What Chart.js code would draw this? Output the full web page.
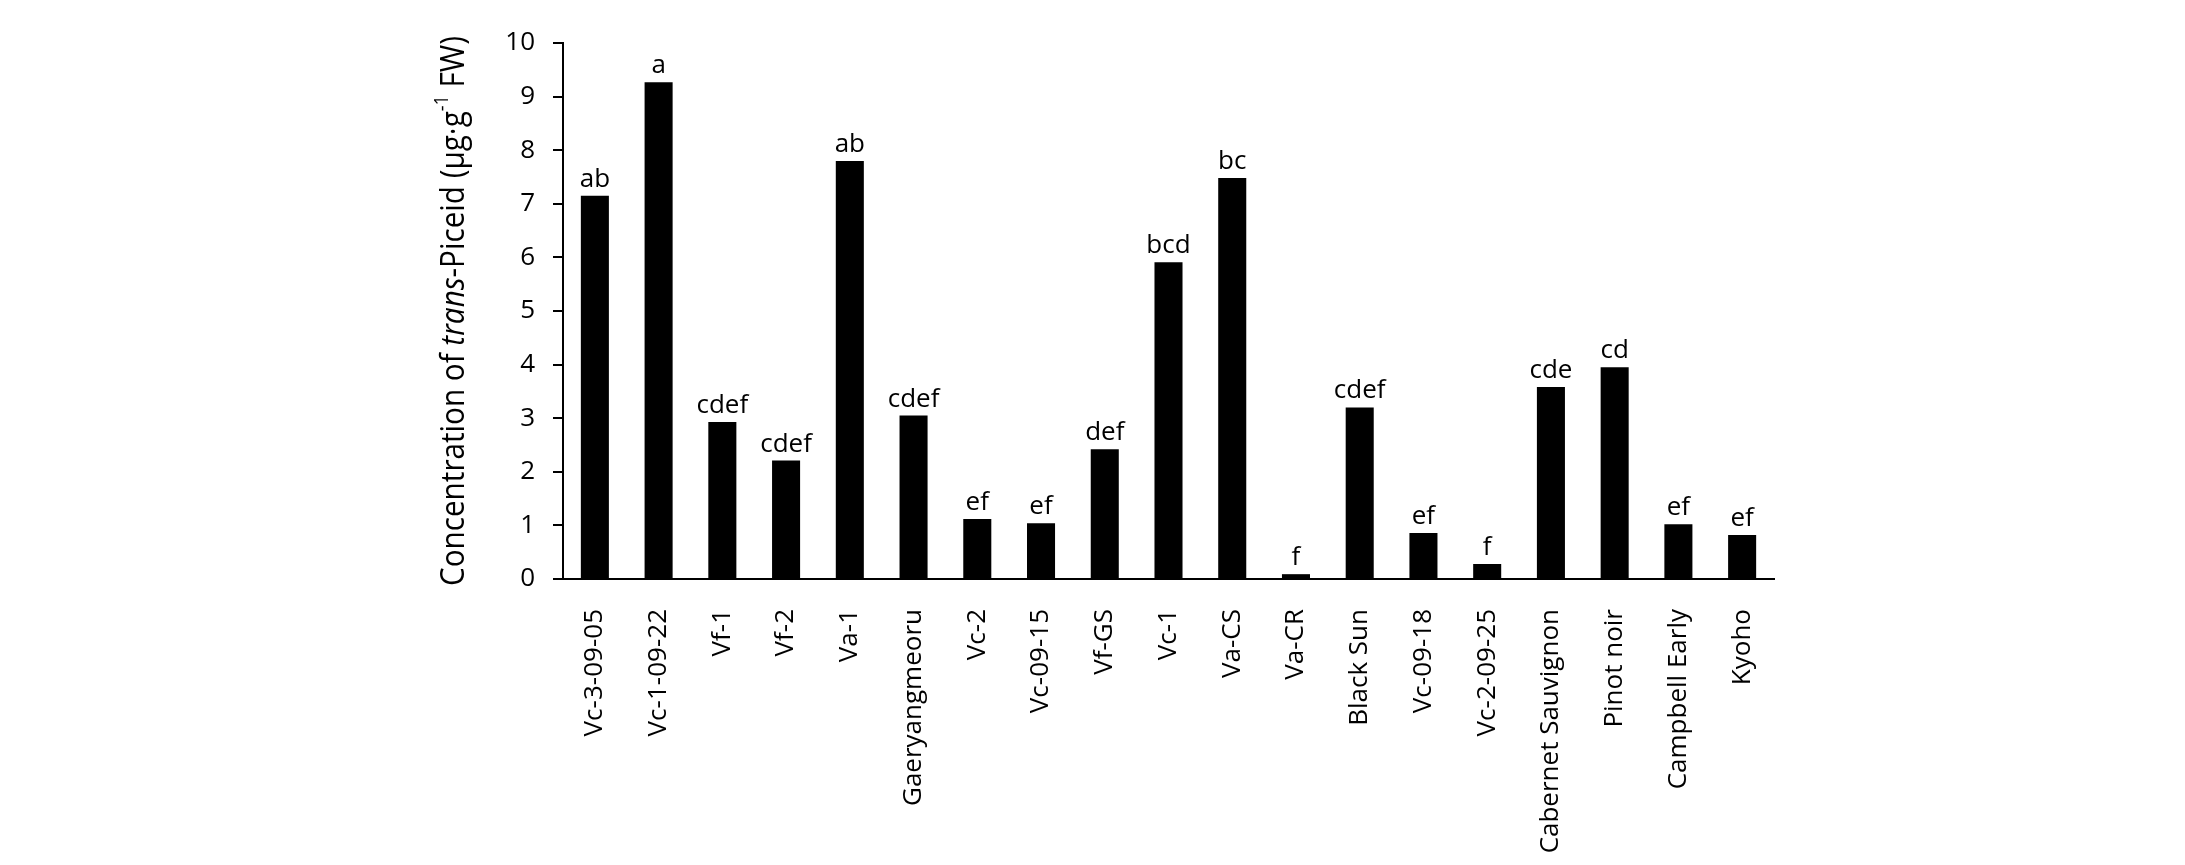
<!DOCTYPE html>
<html>
<head>
<meta charset="utf-8">
<script src="https://cdn.jsdelivr.net/npm/chart.js@4.4.1/dist/chart.umd.min.js"></script>
<style>
  html, body { margin: 0; padding: 0; background: #fff; }
  canvas { display: block; }
</style>
</head>
<body>
<canvas id="piceid" width="2185" height="865"></canvas>
<script>
// cultivars, in plot order
const categories = [
  'Vc-3-09-05', 'Vc-1-09-22', 'Vf-1', 'Vf-2', 'Va-1', 'Gaeryangmeoru',
  'Vc-2', 'Vc-09-15', 'Vf-GS', 'Vc-1', 'Va-CS', 'Va-CR', 'Black Sun',
  'Vc-09-18', 'Vc-2-09-25', 'Cabernet Sauvignon', 'Pinot noir',
  'Campbell Early', 'Kyoho'
];
// trans-piceid, ug/g FW
const values = [
  7.15, 9.27, 2.93, 2.21, 7.80, 3.05,
  1.12, 1.04, 2.42, 5.91, 7.48, 0.09, 3.20,
  0.86, 0.28, 3.58, 3.95,
  1.02, 0.82
];
// significance letters above bars
const letters = [
  'ab', 'a', 'cdef', 'cdef', 'ab', 'cdef',
  'ef', 'ef', 'def', 'bcd', 'bc', 'f', 'cdef',
  'ef', 'f', 'cde', 'cd',
  'ef', 'ef'
];
const yMin = 0;
const yMax = 10;
const yStep = 1;

const FONT = "'Open Sans', 'Noto Sans', sans-serif";
Chart.defaults.font.family = FONT;
Chart.defaults.color = '#000';

// letters on top of each bar
const letterPlugin = {
  id: 'letters',
  afterDatasetsDraw(chart) {
    const ctx = chart.ctx;
    const meta = chart.getDatasetMeta(0);
    ctx.save();
    ctx.fillStyle = '#000';
    ctx.font = '26px ' + FONT;
    ctx.textAlign = 'center';
    ctx.textBaseline = 'alphabetic';
    meta.data.forEach((bar, i) => {
      ctx.fillText(letters[i], bar.x, bar.y - 9);
    });
    ctx.restore();
  }
};

// y title with italic "trans" and superscript -1
const yTitlePlugin = {
  id: 'yTitle',
  afterDraw(chart) {
    const ctx = chart.ctx;
    const area = chart.chartArea;
    const size = 33;
    const parts = [
      { t: 'Concentration of ', f: size + 'px ' + FONT, dy: 0 },
      { t: 'trans', f: 'italic ' + size + 'px ' + FONT, dy: 0 },
      { t: '-Piceid (\u03bcg\u00b7g', f: size + 'px ' + FONT, dy: 0 },
      { t: '-1', f: Math.round(size * 0.6) + 'px ' + FONT, dy: -size * 0.38 },
      { t: ' FW)', f: size + 'px ' + FONT, dy: 0 }
    ];
    ctx.save();
    let total = 0;
    parts.forEach(p => { ctx.font = p.f; p.w = ctx.measureText(p.t).width; total += p.w; });
    // the original face is narrow, squeeze to its length
    const target = 550;
    const sx = Math.min(1, target / total);
    ctx.translate(455, (area.top + area.bottom) / 2);
    ctx.rotate(-Math.PI / 2);
    ctx.scale(sx, 1);
    ctx.fillStyle = '#000';
    ctx.textBaseline = 'middle';
    ctx.textAlign = 'left';
    let x = -total / 2;
    parts.forEach(p => {
      ctx.font = p.f;
      ctx.fillText(p.t, x, p.dy);
      x += p.w;
    });
    ctx.restore();
  }
};

const ctx = document.getElementById('piceid').getContext('2d');
new Chart(ctx, {
  type: 'bar',
  data: {
    labels: categories,
    datasets: [{
      data: values,
      backgroundColor: '#000',
      borderWidth: 0,
      categoryPercentage: 1,
      barPercentage: 0.44
    }]
  },
  options: {
    responsive: false,
    animation: false,
    layout: { padding: { top: 43, right: 411, bottom: 0, left: 0 } },
    plugins: {
      legend: { display: false },
      tooltip: { enabled: false }
    },
    scales: {
      x: {
        grid: { display: false, drawTicks: false },
        border: { display: true, color: '#000', width: 2 },
        ticks: {
          font: { size: 26 },
          color: '#000',
          minRotation: 90,
          maxRotation: 90,
          autoSkip: false,
          padding: 30
        },
        afterFit(scale) { scale.height = 865 - 579; }
      },
      y: {
        min: yMin,
        max: yMax,
        grid: { drawOnChartArea: false, drawTicks: true, tickLength: 10, color: '#000', lineWidth: 2 },
        border: { display: true, color: '#000', width: 2 },
        ticks: {
          stepSize: yStep,
          font: { size: 26 },
          color: '#000',
          padding: 18
        },
        afterFit(scale) { scale.width = 563; }
      }
    }
  },
  plugins: [letterPlugin, yTitlePlugin]
});
</script>
</body>
</html>
